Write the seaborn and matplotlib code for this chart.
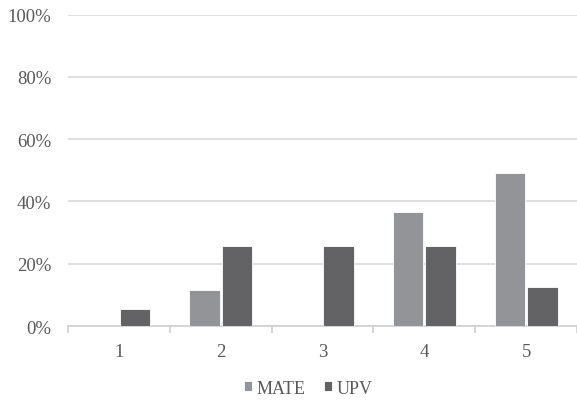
import pandas as pd
import seaborn as sns
import matplotlib.pyplot as plt
from matplotlib.ticker import PercentFormatter

sns.set_theme(style="white")
plt.rcParams['font.family'] = ['Liberation Serif', 'DejaVu Serif']

categories = ['1', '2', '3', '4', '5']
mate = [0, 11.6, 0, 36.6, 49.0]
upv = [5.6, 25.6, 25.6, 25.6, 12.5]
series = ['MATE', 'UPV']
colors = ['#939497', '#636365']

df = pd.DataFrame({
    'cat': categories * 2,
    'value': mate + upv,
    'group': ['MATE'] * len(categories) + ['UPV'] * len(categories),
})

fig = plt.figure(figsize=(5.77, 4.10), dpi=100)
ax = fig.add_axes([68 / 577, 1 - 327 / 410, 509 / 577, (327 - 15.7) / 410])

sns.barplot(data=df, x='cat', y='value', hue='group', hue_order=series,
            palette=colors, width=0.64, gap=0.06, saturation=1,
            edgecolor='white', linewidth=0.6, ax=ax, zorder=3)

ax.set_xlim(-0.5, 4.5)
ax.set_ylim(0, 100)
ax.set_yticks(range(0, 101, 20))
ax.yaxis.set_major_formatter(PercentFormatter(decimals=0))
ax.grid(axis='y', color='#d9d9d9', linewidth=1.2, zorder=0)
ax.set_xlabel('')
ax.set_ylabel('')

for side in ['top', 'right', 'left']:
    ax.spines[side].set_visible(False)
ax.spines['bottom'].set_color('#d0d0d0')
ax.spines['bottom'].set_linewidth(1.2)

# tick marks sit between categories, labels at centres
ax.set_xticks([i - 0.5 for i in range(6)], minor=True)
ax.tick_params(axis='x', which='minor', bottom=True, length=5, width=1.2,
               color='#d0d0d0')
ax.tick_params(axis='x', which='major', bottom=False, pad=6,
               labelsize=13.5, labelcolor='#595959')
ax.tick_params(axis='y', left=False, length=0, pad=12, labelsize=13.5,
               labelcolor='#595959')

handles, labels = ax.get_legend_handles_labels()
ax.legend(handles, labels, loc='center', bbox_to_anchor=(0.5 - 14.5 / 509, -0.2),
          ncol=2, frameon=False, fontsize=13, labelcolor='#595959',
          handlelength=0.45, handleheight=0.45, handletextpad=0.25,
          columnspacing=1.0)

fig.savefig('out.png', dpi=100)
